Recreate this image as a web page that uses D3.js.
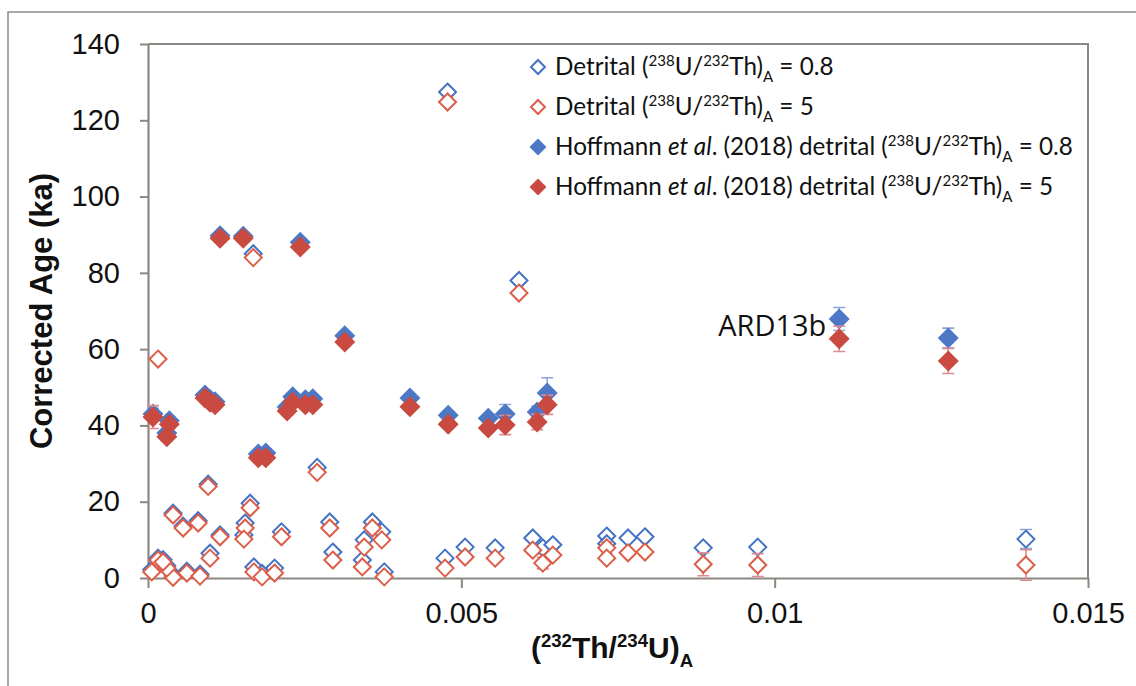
<!DOCTYPE html>
<html><head><meta charset="utf-8">
<script src="https://cdn.jsdelivr.net/npm/d3@7"></script>
<style>body{margin:0;background:#fff} svg{display:block}</style>
</head><body><svg id="c" width="1136" height="686"></svg>
<script>
// ---- data ----
const detX = [0.00478, 0.00592, 0.00168, 0.00016, 0.0027, 0.00096, 0.0004, 0.00056, 0.0008, 0.00115, 0.00163, 0.00155, 0.00153, 0.00213, 0.0029, 0.00295, 0.00358, 0.00345, 0.00373, 0.00342, 0.00377, 0.00169, 0.00182, 0.00202, 0.00099, 0.00062, 0.0004, 0.00083, 0.00016, 0.00006, 0.0003, 0.00024, 0.00474, 0.00506, 0.00554, 0.00614, 0.0063, 0.00646, 0.00732, 0.00732, 0.00766, 0.00793, 0.00886, 0.00973, 0.01401];
const det08 = [127.4, 78, 85, null, 29, 24.6, 17, 13.6, 15, 11.3, 19.6, 14.4, 11.3, 12.1, 14.7, 6.8, 14.7, 10, 12.1, 4.7, 1.6, 2.9, 1.2, 2.6, 6.5, 1.8, 0.8, 1, 5.2, 2.2, 3.2, 4.8, 5.2, 8.1, 7.9, 10.5, 7.9, 8.7, 11, 9, 10.5, 10.8, 7.9, 8.1, 10.2];
const det5 = [124.8, 74.7, 84, 57.4, 27.7, 24, 16.5, 13.1, 14.4, 10.8, 18.4, 13.1, 10.2, 10.8, 13.1, 4.7, 13.1, 8.1, 10, 2.9, 0.3, 1.6, 0.3, 1.3, 5.2, 1.3, 0.2, 0.5, 4.7, 1.6, 2.6, 4.2, 2.6, 5.5, 5.2, 7.3, 3.9, 6, 7.9, 5.2, 6.6, 6.8, 3.6, 3.4, 3.4];
const det08Err = [0,0,0,0,0,0,0,0,0,0,0,0,0,0,0,0,0,0,0,0,0,0,0,0,0,0,0,0,0,0,0,0,0,0,0,0,0,0,0,0,0,0,0,0,2.5];
const det5Err = [0,0,0,0,0,0,0,0,0,0,0,0,0,0,0,0,0,0,0,0,0,0,0,0,0,0,0,0,0,0,0,0,0,0,0,1,1.5,1,1.5,0,0,0,3,3,4];

const hofX = [0.00008, 0.00034, 0.0003, 0.00091, 0.00099, 0.00107, 0.00115, 0.00152, 0.00243, 0.00176, 0.00188, 0.00222, 0.00231, 0.00251, 0.00263, 0.00314, 0.00418, 0.00479, 0.00543, 0.0057, 0.00621, 0.00637, 0.01103, 0.01277];
const hof08 = [43, 41.2, 38, 48, 46.8, 46.2, 89.7, 89.6, 88, 32.5, 32.8, 44.8, 47.5, 46.7, 47, 63.5, 47.2, 42.7, 41.9, 43, 43.5, 48.5, 67.9, 62.9];
const hof5 = [42.2, 40.3, 37, 47.2, 46.1, 45.4, 89.1, 89.1, 86.8, 31.5, 31.5, 43.8, 46.1, 45.4, 45.4, 61.9, 44.9, 40.3, 39.3, 40.1, 40.9, 45.4, 62.7, 56.9];
const hof08Err = [1.5,1,1,1,1,1,1,1,1,1,1,1,1,1,1,1,1,1,1,2.5,1.5,4,3,2.6];
const hof5Err = [3,1,1,1,1,1,1,1,1,1,1,1,1,1,1,1,1,1,1,2.5,2,2.5,3.3,3.3];

const xTicks = [0, 0.005, 0.01, 0.015];
const xTickLabels = ["0", "0.005", "0.01", "0.015"];
const yTicks = [0, 20, 40, 60, 80, 100, 120, 140];
const annotation = {label: "ARD13b", index: 22};

const legendRows = [
  [{t:"Detrital ("},{t:"238",s:"sup"},{t:"U/"},{t:"232",s:"sup"},{t:"Th)"},{t:"A",s:"sub"},{t:" = 0.8"}],
  [{t:"Detrital ("},{t:"238",s:"sup"},{t:"U/"},{t:"232",s:"sup"},{t:"Th)"},{t:"A",s:"sub"},{t:" = 5"}],
  [{t:"Hoffmann "},{t:"et al",i:1},{t:". (2018) detrital ("},{t:"238",s:"sup"},{t:"U/"},{t:"232",s:"sup"},{t:"Th)"},{t:"A",s:"sub"},{t:" = 0.8"}],
  [{t:"Hoffmann "},{t:"et al",i:1},{t:". (2018) detrital ("},{t:"238",s:"sup"},{t:"U/"},{t:"232",s:"sup"},{t:"Th)"},{t:"A",s:"sub"},{t:" = 5"}]
];
const xTitle = [{t:"("},{t:"232",s:"sup"},{t:"Th/"},{t:"234",s:"sup"},{t:"U)"},{t:"A",s:"sub"}];
const yTitle = "Corrected Age (ka)";

// ---- style ----
const C = {openBlue:"#4472C4", openRed:"#DD5E48", fillBlue:"#4D78C6", fillRed:"#C94A40",
           errBlue:"#8FA4D8", errRed:"#DC8C92", axis:"#8C8782", frame:"#8E8A86"};

const svg = d3.select("#c");
const x = d3.scaleLinear().domain([0, 0.015]).range([148, 1088]);
const y = d3.scaleLinear().domain([0, 140]).range([578, 44]);

// outer frame
svg.append("rect").attr("x", 8).attr("y", 12).attr("width", 1300).attr("height", 800)
  .attr("fill", "#fff").attr("stroke", C.frame).attr("stroke-width", 1.5);

// plot border (top & right)
svg.append("path").attr("d", `M${x(0)},${y(140)}H${x(0.015)}V${y(0)}`)
  .attr("fill", "none").attr("stroke", C.axis).attr("stroke-width", 2);

// axes
const yAxis = svg.append("g").attr("transform", `translate(${x(0)},0)`)
  .call(d3.axisLeft(y).tickValues(yTicks).tickSize(8).tickSizeOuter(0).tickPadding(20));
const xAxis = svg.append("g").attr("transform", `translate(0,${y(0)})`)
  .call(d3.axisBottom(x).tickValues(xTicks).tickFormat((d,i)=>xTickLabels[i]).tickSize(10).tickSizeOuter(0).tickPadding(14));
[yAxis, xAxis].forEach(g => {
  g.select(".domain").attr("stroke", C.axis).attr("stroke-width", 2.2);
  g.selectAll(".tick line").attr("stroke", C.axis).attr("stroke-width", 2);
  g.selectAll(".tick text").attr("fill", "#111").attr("font-family", "Liberation Sans, Arial, sans-serif").attr("font-size", 29);
});

function rich(textSel, parts, fs) {
  let cur = 0;
  parts.forEach(p => {
    const shift = p.s === "sup" ? -0.36 * fs : p.s === "sub" ? 0.3 * fs : 0;
    const ts = textSel.append("tspan").text(p.t).attr("dy", shift - cur);
    if (p.s) ts.attr("font-size", fs * 0.62);
    if (p.i) ts.attr("font-style", "italic");
    cur = shift;
  });
}

// axis titles
svg.append("text").attr("transform", "translate(52,311) rotate(-90)")
  .attr("text-anchor", "middle").attr("font-family", "Liberation Sans, Arial, sans-serif")
  .attr("font-weight", "bold").attr("font-size", 31).attr("fill", "#111").text(yTitle);
const xt = svg.append("text").attr("x", 612).attr("y", 658).attr("text-anchor", "middle")
  .attr("font-family", "Liberation Sans, Arial, sans-serif").attr("font-weight", "bold")
  .attr("font-size", 30).attr("fill", "#111");
rich(xt, xTitle, 30);

const diamond = r => `M0,${-r}L${r},0L0,${r}L${-r},0Z`;

function errorBars(xs, ys, es, color) {
  const g = svg.append("g").attr("stroke", color).attr("stroke-width", 1.6).attr("fill", "none");
  xs.forEach((xv, i) => {
    if (ys[i] == null || !es[i]) return;
    const cx = x(xv), y1 = y(ys[i] - es[i]), y2 = y(ys[i] + es[i]);
    g.append("path").attr("d", `M${cx},${y1}V${y2}M${cx-6},${y1}H${cx+6}M${cx-6},${y2}H${cx+6}`);
  });
}
function points(xs, ys, opts) {
  const data = xs.map((xv, i) => [xv, ys[i]]).filter(d => d[1] != null);
  svg.append("g").selectAll("path").data(data).join("path")
    .attr("transform", d => `translate(${x(d[0])},${y(d[1])})`)
    .attr("d", diamond(opts.r))
    .attr("fill", opts.fill).attr("stroke", opts.stroke || "none").attr("stroke-width", opts.sw || 0);
}

errorBars(detX, det08, det08Err, C.errBlue);
points(detX, det08, {r: 8.5, fill: "#fff", stroke: C.openBlue, sw: 2});
errorBars(detX, det5, det5Err, C.errRed);
points(detX, det5, {r: 8.5, fill: "#fff", stroke: C.openRed, sw: 2});
errorBars(hofX, hof08, hof08Err, C.errBlue);
points(hofX, hof08, {r: 10.5, fill: C.fillBlue});
errorBars(hofX, hof5, hof5Err, C.errRed);
points(hofX, hof5, {r: 10.5, fill: C.fillRed});

// annotation
const ai = annotation.index;
const ann = svg.append("text").attr("x", x(hofX[ai]) - 13).attr("y", y(hof08[ai]) + 17)
  .attr("text-anchor", "end").attr("font-family", "Open Sans, sans-serif").attr("font-size", 26)
  .attr("fill", "#111").text(annotation.label);
{ const w = ann.node().getComputedTextLength(); ann.attr("font-size", 26 * 108 / w); }

// legend
const legendStyles = [
  {fill:"#fff", stroke:C.openBlue, sw:2, r:7},
  {fill:"#fff", stroke:C.openRed, sw:2, r:7},
  {fill:C.fillBlue, r:8.5},
  {fill:C.fillRed, r:8.5}
];
const lg = svg.append("g");
const texts = [];
legendRows.forEach((row, i) => {
  const cy = 67 + i * 40;
  const st = legendStyles[i];
  lg.append("path").attr("transform", `translate(538,${cy})`).attr("d", diamond(st.r))
    .attr("fill", st.fill).attr("stroke", st.stroke || "none").attr("stroke-width", st.sw || 0);
  const t = lg.append("text").attr("x", 555).attr("y", cy + 8)
    .attr("font-family", "Lato, Open Sans, sans-serif").attr("font-size", 24).attr("fill", "#111");
  rich(t, row, 24);
  texts.push(t);
});
{
  const w = texts[2].node().getComputedTextLength();
  const fs = 24 * 518 / w;
  texts.forEach((t, i) => { t.selectAll("*").remove(); t.attr("font-size", fs); rich(t, legendRows[i], fs); });
}
</script></body></html>
